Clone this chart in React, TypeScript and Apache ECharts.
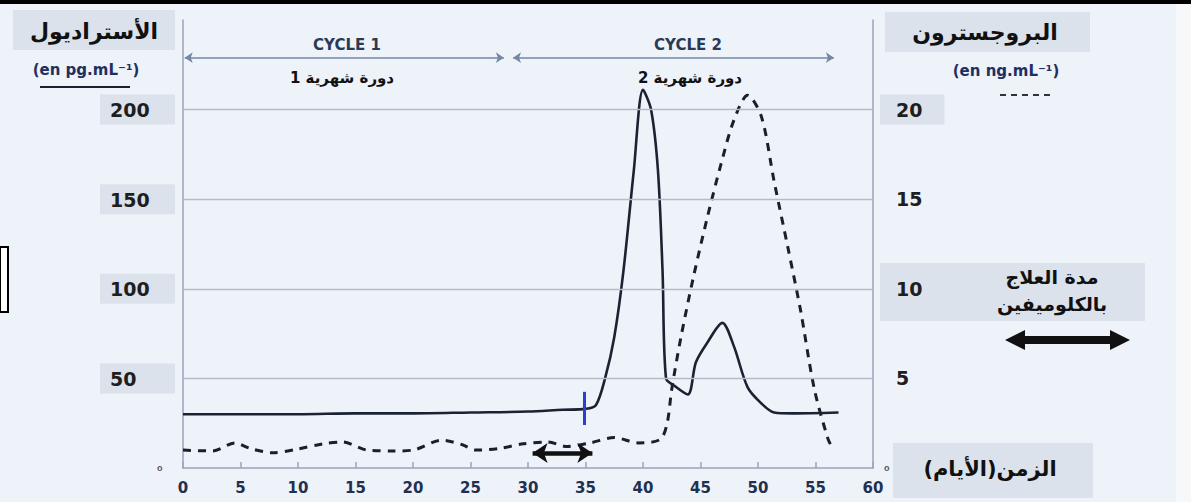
import React, { useEffect, useRef } from "react";
import * as echarts from "echarts";

// Estradiol (pg/mL) – left axis
const estradiolDays = [0, 5, 10, 15, 20, 25, 30, 33, 35, 35.9, 36.7, 37.5, 38.3, 39.2, 40, 40.7, 41.3, 41.7, 42, 42.7, 43.9, 44.6, 45.6, 46.9, 47.9, 49.1, 50.3, 51.4, 53, 57];
const estradiolValues = [30, 30, 30, 30.5, 30.5, 31, 31.5, 32.5, 33, 35, 50, 73, 110, 166, 211, 200, 166, 110, 50, 46, 41, 59, 70, 81, 68, 45, 36, 31, 30.5, 31];

// Progesterone (ng/mL) – right axis
const progesteroneDays = [0, 2.6, 4.5, 5.8, 7.8, 9.9, 12.2, 13.9, 16, 18.3, 20, 22.5, 24.3, 25.4, 27.6, 29.6, 31.7, 33.4, 35.4, 37.5, 39.6, 41.5, 42.1, 42.5, 43.3, 44.4, 45.6, 46.8, 47.9, 49.1, 50.3, 51.4, 52.6, 53.7, 54.9, 56.1, 56.5];
const progesteroneValues = [1.0, 0.95, 1.4, 1.1, 0.85, 1.05, 1.35, 1.45, 1.0, 0.95, 1.0, 1.55, 1.3, 1.0, 1.1, 1.35, 1.45, 1.2, 1.4, 1.7, 1.4, 1.6, 2.5, 4.4, 7.3, 10.7, 14, 17, 19.4, 20.8, 19.6, 16, 12.3, 8.8, 4.4, 1.6, 1.1];

// Annotations (days / values)
const cycle1 = [0.15, 27.9];
const cycle2 = [28.7, 56.6];
const cycleArrowLevel = 229;
const treatmentDays = [30.4, 35.6];
const treatmentLevel = 8.4;
const markerDay = 34.9;
const markerRange = [24, 42.5];
const rightGrid = [5, 10, 15, 20];

const AR = (s: string) => "\u202B" + s + "\u202C";

export default function App() {
  const ref = useRef<HTMLDivElement>(null);
  useEffect(() => {
    document.body.style.margin = "0";
    const chart = echarts.init(ref.current!, undefined, { renderer: "svg" });
    const E = estradiolDays.map((d, i) => [d, estradiolValues[i]]);
    const P = progesteroneDays.map((d, i) => [d, progesteroneValues[i]]);
    const axisCol = "#9aa4bb";
    const boxCol = "#dce2eb";
    const arFont = '"DejaVu Sans", "Noto Sans", sans-serif';
    const numFont = '"DejaVu Sans", Verdana, sans-serif';
    const txt = (text: string, x: number, y: number, size: number, color = "#111", family = arFont, weight = "bold") => ({
      type: "text",
      x,
      y,
      style: {
        text,
        fill: color,
        fontSize: size,
        fontWeight: weight,
        fontFamily: family,
        align: "center",
        verticalAlign: "middle",
        textAlign: "center",
        textVerticalAlign: "middle",
      },
    });
    chart.setOption({
      animation: false,
      backgroundColor: "#eef2f9",
      grid: { left: 183, right: 318, top: 20, bottom: 34 },
      xAxis: {
        type: "value",
        min: 0,
        max: 60,
        interval: 5,
        axisLine: { show: true, lineStyle: { color: axisCol, width: 1.5 } },
        axisTick: { show: true, inside: true, length: 6, lineStyle: { color: axisCol, width: 1.5 } },
        splitLine: { show: false },
        axisLabel: { color: "#22304f", fontFamily: numFont, fontWeight: "bold", fontSize: 15, margin: 12 },
      },
      yAxis: [
        {
          type: "value",
          min: 0,
          max: 250,
          interval: 50,
          position: "left",
          axisLine: { show: true, lineStyle: { color: axisCol, width: 1.5 } },
          axisTick: { show: false },
          splitLine: { show: false },
          axisLabel: {
            align: "left",
            margin: 83,
            formatter: (v: number) => (v === 0 ? "{o|o}" : v === 250 ? "" : "{b|" + v + "}"),
            rich: {
              b: { backgroundColor: boxCol, padding: [6, 10, 5, 10], width: 55, fontWeight: "bold", fontSize: 19, fontFamily: numFont, color: "#1e1e1e" },
              o: { padding: [0, 0, 0, 57], fontSize: 9, color: "#556", fontWeight: "bold" },
            },
          },
        },
        {
          type: "value",
          min: 0,
          max: 25,
          interval: 5,
          position: "right",
          axisLine: { show: true, lineStyle: { color: axisCol, width: 1.5 } },
          axisTick: { show: false },
          splitLine: { show: false },
          axisLabel: {
            align: "left",
            margin: 7,
            formatter: (v: number) => (v === 0 ? "{o|o}" : v === 25 ? "" : v === 20 ? "{b|20}" : "{n|" + v + "}"),
            rich: {
              b: { backgroundColor: boxCol, padding: [6, 22, 5, 16], fontWeight: "bold", fontSize: 19, fontFamily: numFont, color: "#1e1e1e" },
              n: { padding: [0, 0, 0, 16], fontWeight: "bold", fontSize: 19, fontFamily: numFont, color: "#1e1e1e" },
              o: { padding: [0, 0, 0, 4], fontSize: 9, color: "#556", fontWeight: "bold" },
            },
          },
        },
      ],
      series: [
        {
          type: "line",
          name: "progesterone",
          yAxisIndex: 1,
          data: P,
          smooth: 0.3,
          symbol: "none",
          lineStyle: { color: "#1b1f2a", width: 3, type: [8, 7] },
          z: 3,
          markLine: {
            silent: true,
            symbol: "none",
            label: { show: false },
            lineStyle: { color: "#b3bccb", width: 1.3, type: "solid" },
            data: rightGrid.map((v) => ({ yAxis: v })),
          },
        },
        {
          type: "line",
          name: "estradiol",
          yAxisIndex: 0,
          data: E,
          smooth: 0.3,
          symbol: "none",
          lineStyle: { color: "#1b2333", width: 2.6 },
          z: 4,
          markLine: {
            silent: true,
            label: { show: false },
            symbol: ["arrow", "arrow"],
            data: [
              [
                { coord: [cycle1[0], cycleArrowLevel], symbol: "arrow", symbolSize: 8, lineStyle: { color: "#7587a6", width: 1.5, type: "solid" } },
                { coord: [cycle1[1], cycleArrowLevel], symbol: "arrow", symbolSize: 8 },
              ],
              [
                { coord: [cycle2[0], cycleArrowLevel], symbol: "arrow", symbolSize: 8, lineStyle: { color: "#7587a6", width: 1.5, type: "solid" } },
                { coord: [cycle2[1], cycleArrowLevel], symbol: "arrow", symbolSize: 8 },
              ],
              [
                { coord: [treatmentDays[0], treatmentLevel], symbol: "arrow", symbolSize: 15, lineStyle: { color: "#111", width: 4.5, type: "solid" } },
                { coord: [treatmentDays[1], treatmentLevel], symbol: "arrow", symbolSize: 15 },
              ],
              [
                { coord: [markerDay, markerRange[0]], symbol: "none", lineStyle: { color: "#2d3ed0", width: 3, type: "solid" } },
                { coord: [markerDay, markerRange[1]], symbol: "none" },
              ],
            ],
          },
        },
      ],
      graphic: [
        { type: "rect", shape: { x: 1176, y: 0, width: 15, height: 502 }, style: { fill: "#f7f8fa" } },
        { type: "rect", shape: { x: 0, y: 0, width: 1191, height: 4 }, style: { fill: "#000" } },
        { type: "rect", shape: { x: 13, y: 10, width: 162, height: 40 }, style: { fill: boxCol } },
        txt(AR("الأستراديول"), 94, 31, 22),
        txt("(en pg.mL⁻¹)", 86, 70, 15, "#1f2f5f", numFont),
        { type: "line", shape: { x1: 40, y1: 87, x2: 130, y2: 87 }, style: { stroke: "#1a2030", lineWidth: 2 } },
        { type: "rect", shape: { x: 885, y: 12, width: 205, height: 40 }, style: { fill: boxCol } },
        txt(AR("البروجسترون"), 985, 32, 22),
        txt("(en ng.mL⁻¹)", 1006, 71, 15, "#1f2f5f", numFont),
        { type: "line", shape: { x1: 1000, y1: 95, x2: 1055, y2: 95 }, style: { stroke: "#333", lineWidth: 2, lineDash: [6, 5] } },
        { type: "rect", shape: { x: 880, y: 263, width: 265, height: 58 }, style: { fill: boxCol } },
        txt(AR("مدة العلاج"), 1052, 277, 19),
        txt(AR("بالكلوميفين"), 1052, 304, 19),
        {
          type: "polygon",
          shape: {
            points: [[1005, 340], [1025, 330], [1025, 336], [1110, 336], [1110, 330], [1130, 340], [1110, 350], [1110, 344], [1025, 344], [1025, 350]],
          },
          style: { fill: "#111" },
        },
        { type: "rect", shape: { x: 893, y: 443, width: 200, height: 55 }, style: { fill: boxCol } },
        txt(AR("الزمن(الأيام)"), 990, 469, 21),
        { type: "rect", shape: { x: 0, y: 247, width: 8, height: 65 }, style: { fill: "#fff", stroke: "#000", lineWidth: 2 } },
        txt("CYCLE 1", 347, 45, 15, "#2a3a55", numFont),
        txt(AR("دورة شهرية 1"), 342, 78, 15),
        txt("CYCLE 2", 688, 45, 15, "#2a3a55", numFont),
        txt(AR("دورة شهرية 2"), 690, 78, 15),
      ],
    });
    return () => chart.dispose();
  }, []);
  return <div ref={ref} style={{ width: 1191, height: 502 }} />;
}
